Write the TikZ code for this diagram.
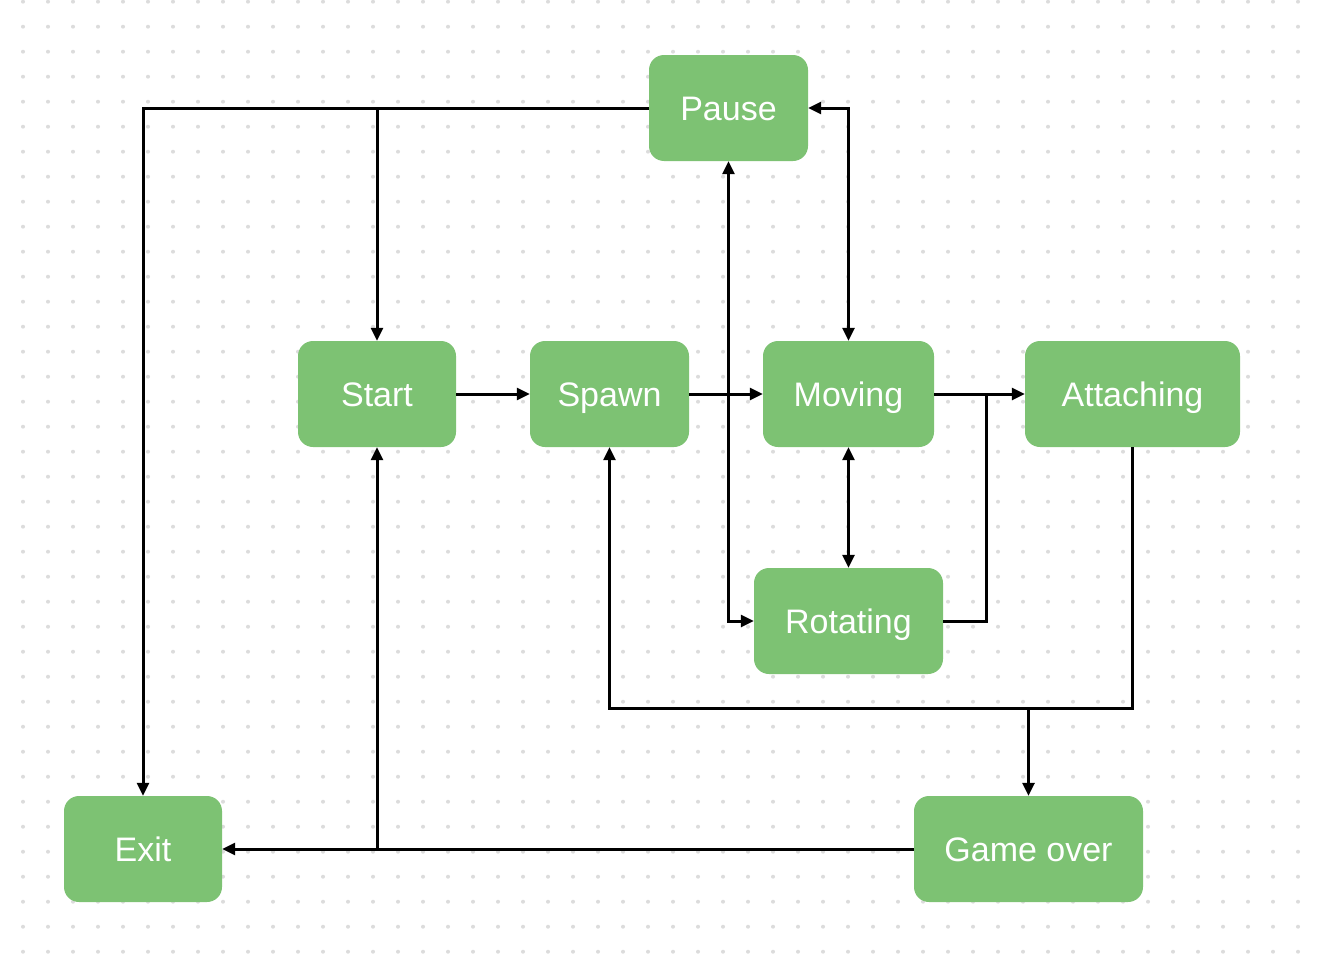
\documentclass[tikz,border=0pt]{standalone}
\usepackage{fontspec}
\setmainfont{Liberation Sans}
\usetikzlibrary{arrows.meta}
\definecolor{nodegreen}{HTML}{7DC273}
\definecolor{dotc}{HTML}{DCDCDC}
\begin{document}
\begin{tikzpicture}[x=1pt,y=-1pt,
  state/.style={fill=nodegreen, rounded corners=15pt, text=white, minimum height=106pt, inner sep=0pt,
    text height=24.3pt, text depth=0pt,
    font=\fontsize{34}{40}\selectfont},
  link/.style={line width=3pt, draw=black},
  arr/.style={link, -{Triangle[length=13pt,width=12pt]}},
  dbl/.style={link, {Triangle[length=13pt,width=12pt]}-{Triangle[length=13pt,width=12pt]}}]
\useasboundingbox (0,0) rectangle (1318,972);
\foreach \i in {0,...,51} \foreach \j in {0,...,38} \fill[dotc] (23+25*\i, 1.7+25*\j) circle (2);
\node[state, minimum width=159pt] (pause) at (728.5,108) {Pause};
\node[state, minimum width=158pt] (start) at (377,394) {Start};
\node[state, minimum width=159pt] (spawn) at (609.5,394) {Spawn};
\node[state, minimum width=171pt] (moving) at (848.5,394) {Moving};
\node[state, minimum width=215pt] (attaching) at (1132.5,394) {Attaching};
\node[state, minimum width=189pt] (rotating) at (848.5,621) {Rotating};
\node[state, minimum width=158pt] (exit) at (143,849) {Exit};
\node[state, minimum width=229pt] (gameover) at (1028.5,849) {Game over};
\coordinate (j1) at (986,394);
\coordinate (low) at (0,708);
\draw[arr] (pause.west) -| (exit.north);
\draw[arr] (start.north |- pause.west) -- (start.north);
\draw[dbl] (pause.east) -| (moving.north);
\draw[dbl] (pause.south) |- (rotating.west);
\draw[arr] (start.east) -- (spawn.west);
\draw[arr] (spawn.east) -- (moving.west);
\draw[arr] (moving.east) -- (attaching.west);
\draw[link] (rotating.east) -| (j1);
\draw[dbl] (moving.south) -- (rotating.north);
\draw[arr] (attaching.south) |- (low -| spawn.south) -- (spawn.south);
\draw[arr] (low -| gameover.north) -- (gameover.north);
\draw[arr] (gameover.west) -- (exit.east);
\draw[arr] (start.south |- exit.east) -- (start.south);
\end{tikzpicture}
\end{document}
